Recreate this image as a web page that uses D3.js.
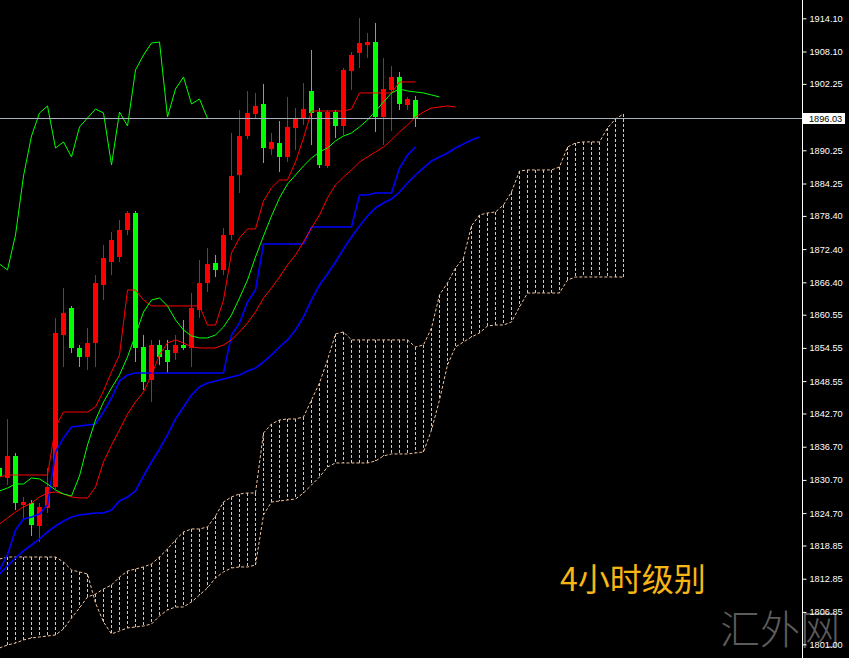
<!DOCTYPE html>
<html><head><meta charset="utf-8">
<script src="https://cdn.jsdelivr.net/npm/d3@7"></script>
<style>html,body{margin:0;padding:0;background:#000;overflow:hidden}</style>
</head><body>
<svg id="c" width="849" height="658"></svg>
<script>
// ---- data (all series start at bar index -1) ----
const firstBar = -1;
const opens = [1832.86,1831.05,1835.03,1826.17,1826.53,1822.37,1825.62,1829.42,1856.89,1861.76,1854.54,1852.92,1855.44,1865.92,1870.07,1870.98,1875.85,1878.93,1854.72,1848.76,1855.09,1854.18,1853.64,1855.09,1854.54,1861.40,1866.28,1869.89,1868.63,1874.95,1885.79,1892.84,1896.81,1898.62,1890.49,1891.57,1889.05,1894.29,1896.09,1900.97,1897.17,1887.42,1897.17,1894.64,1904.58,1907.84,1909.28,1909.82,1896.27,1901.15,1903.50,1898.44,1899.34];
const highs = [1834.30,1841.71,1835.57,1827.62,1827.07,1826.53,1832.86,1859.96,1865.37,1862.13,1855.09,1858.15,1867.72,1873.15,1875.49,1877.67,1879.29,1879.29,1856.89,1855.99,1855.99,1855.99,1856.89,1859.60,1864.47,1870.43,1872.60,1871.34,1876.22,1893.38,1897.53,1900.97,1900.61,1902.23,1893.38,1895.55,1899.89,1897.89,1902.41,1908.38,1897.89,1897.53,1897.53,1905.12,1908.02,1914.16,1911.45,1913.25,1906.93,1905.48,1904.40,1899.89,1900.07];
const lows = [1830.69,1829.78,1825.26,1823.46,1820.56,1819.48,1824.72,1828.88,1851.11,1853.64,1851.11,1850.57,1851.11,1863.21,1867.72,1870.07,1874.95,1852.01,1846.95,1844.78,1851.47,1850.02,1852.37,1854.18,1851.11,1859.96,1864.65,1867.36,1867.72,1874.05,1882.54,1892.30,1896.09,1887.96,1889.41,1886.33,1888.14,1890.31,1894.82,1891.21,1887.06,1887.06,1892.48,1893.02,1901.15,1905.12,1906.93,1893.56,1891.21,1893.74,1897.53,1897.53,1894.47];
const closes = [1831.23,1835.03,1826.53,1826.71,1822.55,1825.81,1829.42,1857.25,1860.86,1854.54,1852.92,1855.44,1866.28,1870.79,1874.05,1875.85,1878.93,1854.54,1848.39,1855.09,1852.92,1852.01,1855.09,1854.54,1861.76,1866.28,1869.71,1868.63,1874.95,1885.61,1892.84,1896.99,1898.26,1890.67,1891.76,1889.05,1894.47,1896.09,1897.71,1896.99,1887.60,1897.17,1894.64,1904.76,1907.47,1909.64,1909.82,1896.27,1901.33,1903.50,1898.62,1899.52,1896.03];
const tenkan = [1831.23,1831.59,1831.59,1831.59,1831.59,1831.59,1831.59,1840.26,1842.97,1842.97,1842.97,1842.97,1843.88,1846.77,1850.20,1853.28,1865.01,1865.01,1863.21,1862.13,1862.13,1862.13,1862.13,1862.13,1862.13,1862.13,1858.69,1858.69,1863.21,1871.70,1874.41,1876.04,1876.04,1881.10,1883.45,1884.89,1884.89,1888.14,1892.48,1897.35,1897.35,1897.35,1897.35,1897.35,1897.71,1900.61,1900.61,1900.61,1900.61,1900.61,1902.60,1902.60,1902.60];
const kijun = [1814.43,1817.14,1821.65,1823.64,1824.00,1824.54,1826.17,1835.75,1838.28,1840.26,1840.44,1840.62,1840.80,1842.97,1845.50,1848.57,1849.66,1850.02,1850.02,1850.02,1850.02,1850.02,1850.02,1850.02,1850.02,1850.02,1850.02,1850.02,1850.02,1856.89,1859.06,1862.85,1865.01,1873.33,1873.33,1873.33,1873.33,1873.33,1873.33,1876.40,1876.40,1876.40,1876.40,1876.40,1876.40,1882.18,1882.18,1882.54,1882.54,1882.54,1887.06,1889.41,1890.85];
const lips = [1828.70,1829.24,1829.96,1829.96,1831.05,1830.87,1829.96,1828.88,1828.16,1827.79,1831.41,1837.01,1841.53,1844.78,1847.31,1849.66,1852.92,1856.89,1861.04,1863.21,1863.57,1862.13,1859.60,1857.79,1856.71,1856.35,1856.35,1856.89,1858.33,1860.50,1863.57,1866.82,1870.98,1874.77,1878.38,1881.64,1884.16,1885.79,1887.42,1888.86,1889.95,1890.67,1891.94,1892.84,1893.38,1894.47,1895.73,1897.35,1898.98,1900.61,1901.33,1900.97,1900.79,1900.61,1900.25,1899.89];
const teeth = [1822.73,1823.82,1824.90,1825.81,1826.53,1827.62,1828.34,1828.52,1828.16,1827.62,1827.44,1827.44,1829.42,1833.94,1836.97,1839.72,1842.61,1844.78,1846.59,1849.66,1853.28,1855.44,1855.99,1855.44,1854.72,1854.54,1854.54,1854.54,1855.09,1855.99,1857.43,1859.06,1861.04,1863.57,1865.37,1867.36,1869.53,1871.34,1873.69,1876.22,1878.57,1881.64,1883.99,1885.43,1886.70,1888.14,1889.05,1889.95,1890.85,1892.12,1893.56,1894.82,1896.27,1897.17,1897.89,1898.07,1898.26,1898.07];
const jaw = [1813.70,1815.15,1816.59,1817.86,1818.94,1820.03,1821.29,1822.37,1823.28,1824.00,1824.36,1824.54,1824.72,1824.72,1825.26,1826.89,1827.61,1828.70,1831.41,1833.94,1836.29,1838.82,1841.71,1843.88,1846.05,1847.49,1848.21,1848.57,1848.94,1849.30,1849.66,1850.38,1850.92,1852.01,1853.28,1854.72,1855.99,1857.79,1860.14,1863.21,1865.92,1867.90,1870.07,1872.42,1874.59,1876.58,1878.38,1879.83,1880.73,1881.46,1882.72,1884.35,1885.79,1887.06,1888.32,1889.05,1889.77,1890.67,1891.39,1892.12,1892.66];
const spanA = [1800.33,1800.87,1801.23,1801.78,1802.14,1802.32,1802.50,1802.68,1803.77,1805.75,1807.56,1809.55,1810.09,1810.99,1811.71,1813.16,1814.24,1814.61,1814.97,1815.51,1816.78,1818.22,1819.85,1821.29,1821.84,1821.84,1822.20,1824.18,1826.71,1827.62,1828.16,1828.34,1828.34,1839.18,1840.80,1841.53,1841.71,1841.71,1842.07,1845.14,1848.21,1852.37,1857.07,1857.43,1855.99,1855.99,1855.99,1855.99,1855.99,1855.99,1855.99,1855.99,1854.72,1855.09,1858.15,1864.11,1866.28,1868.99,1870.79,1876.58,1878.57,1878.93,1879.11,1880.37,1882.72,1886.51,1886.70,1886.70,1886.70,1886.70,1887.24,1890.85,1891.57,1891.76,1891.76,1891.76,1894.29,1895.91,1896.81];
const spanB = [1816.41,1816.77,1816.77,1816.77,1816.77,1816.77,1816.77,1816.77,1815.87,1814.43,1814.07,1813.70,1808.47,1805.04,1802.87,1803.41,1803.95,1804.13,1804.31,1804.67,1806.12,1807.20,1807.74,1807.74,1808.65,1809.91,1811.18,1812.98,1814.07,1814.79,1814.97,1814.97,1815.33,1824.37,1826.71,1826.89,1827.07,1827.25,1828.34,1829.78,1831.23,1833.04,1833.76,1833.76,1833.76,1833.76,1833.76,1834.12,1835.03,1835.39,1835.39,1835.39,1835.57,1835.75,1839.72,1845.14,1851.47,1854.72,1855.62,1856.52,1857.25,1858.51,1858.69,1858.69,1859.23,1861.94,1864.47,1864.47,1864.47,1864.47,1864.47,1866.82,1867.36,1867.36,1867.36,1867.36,1867.36,1867.36,1867.36];
const yTicks = [1914.10,1908.10,1902.25,1890.25,1884.25,1878.40,1872.40,1866.40,1860.55,1854.55,1848.55,1842.70,1836.70,1830.70,1824.70,1818.85,1812.85,1806.85,1801.00];
const lastPrice = 1896.03;
const chikouShift = 26;
const title = "4小时级别";
const watermark = "汇外网";

// ---- drawing ----
const W = 849, H = 658, axisX = 802;
const x = d3.scaleLinear().domain([0, 1]).range([7, 15]);
const y = d3.scaleLinear().domain([1801.00, 1914.10]).range([644.3, 18.3]);
const bar = k => k + firstBar;
const px = b => Math.round(x(b));

const svg = d3.select('#c');
svg.append('rect').attr('width', W).attr('height', H).attr('fill', '#000');
svg.append('defs').append('clipPath').attr('id', 'plot')
  .append('rect').attr('x', 0).attr('y', 0).attr('width', axisX).attr('height', H);
const g = svg.append('g').attr('clip-path', 'url(#plot)');

// cloud hatch + borders
const cloudColor = '#f0c29c';
const cloud = g.append('g');
spanA.forEach((a, k) => {
  const xx = px(bar(k)) + 0.5;
  const y1 = y(Math.max(a, spanB[k])), y2 = y(Math.min(a, spanB[k]));
  cloud.append('line').attr('x1', xx).attr('x2', xx).attr('y1', y1).attr('y2', y2)
    .attr('stroke', cloudColor).attr('stroke-width', 1).attr('stroke-dasharray', '3,2');
});
const lineGen = d3.line().x((d, k) => x(bar(k)) + 0.5).y(d => y(d));
[spanA, spanB].forEach(s => {
  cloud.append('path').attr('d', lineGen(s)).attr('fill', 'none')
    .attr('stroke', cloudColor).attr('stroke-width', 1).attr('stroke-dasharray', '3,2');
});

// candles
const cg = g.append('g').attr('shape-rendering', 'crispEdges');
opens.forEach((o, k) => {
  const c = closes[k], b = bar(k), cx = px(b);
  const col = c >= o ? '#ff0000' : '#00ff00';
  cg.append('rect').attr('x', cx).attr('width', 1)
    .attr('y', y(highs[k])).attr('height', Math.max(1, y(lows[k]) - y(highs[k]))).attr('fill', col);
  const top = y(Math.max(o, c)), bot = y(Math.min(o, c));
  cg.append('rect').attr('x', cx - 2).attr('width', 5)
    .attr('y', top).attr('height', Math.max(1, bot - top)).attr('fill', col);
});

// indicator lines
function drawLine(series, color, width) {
  g.append('path').attr('d', lineGen(series)).attr('fill', 'none')
    .attr('stroke', color).attr('stroke-width', width);
}
drawLine(jaw, '#0000ff', 1.6);
drawLine(kijun, '#0000ff', 1.6);
drawLine(teeth, '#ff0000', 1);
drawLine(tenkan, '#ff0000', 1);
drawLine(lips, '#00ff00', 1);
// chikou = closes plotted shifted back
const chikouLine = d3.line().x((d, k) => x(bar(k) - chikouShift) + 0.5).y(d => y(d));
g.append('path').attr('d', chikouLine(closes)).attr('fill', 'none')
  .attr('stroke', '#00ff00').attr('stroke-width', 1);

// price line
const py = Math.round(y(lastPrice)) + 0.5;
g.append('line').attr('x1', 0).attr('x2', axisX).attr('y1', py).attr('y2', py)
  .attr('stroke', '#a9b0bd').attr('stroke-width', 1);

// watermark
svg.append('text').attr('x', 720).attr('y', 644).text(watermark)
  .attr('font-family', '"Noto Sans CJK SC"').attr('font-weight', 300)
  .attr('font-size', 40).attr('fill', '#5c5c5c');

// axis
svg.append('line').attr('x1', axisX + 0.5).attr('x2', axisX + 0.5).attr('y1', 0).attr('y2', H)
  .attr('stroke', '#ffffff').attr('stroke-width', 1);
const ax = svg.append('g').attr('transform', `translate(${axisX + 0.5},0)`)
  .call(d3.axisRight(y).tickValues(yTicks).tickSize(4).tickSizeOuter(0).tickPadding(3)
    .tickFormat(d3.format('.2f')));
ax.select('.domain').remove();
ax.selectAll('.tick line').attr('stroke', '#ffffff');
ax.selectAll('.tick text').attr('fill', '#ffffff')
  .attr('font-family', '"Liberation Sans", Arial, sans-serif').attr('font-size', 9.2);

// last price label
svg.append('rect').attr('x', 803).attr('y', py - 5.5).attr('width', 42).attr('height', 11).attr('fill', '#ffffff');
svg.append('text').attr('x', 809).attr('y', py).attr('dy', '0.34em').text(d3.format('.2f')(lastPrice))
  .attr('font-family', '"Liberation Sans", Arial, sans-serif').attr('font-size', 9.2).attr('fill', '#000');

// title
svg.append('text').attr('x', 560).attr('y', 591).text(title)
  .attr('font-family', '"Noto Sans CJK SC"').attr('font-size', 32).attr('fill', '#f7b614');
</script>
</body></html>
